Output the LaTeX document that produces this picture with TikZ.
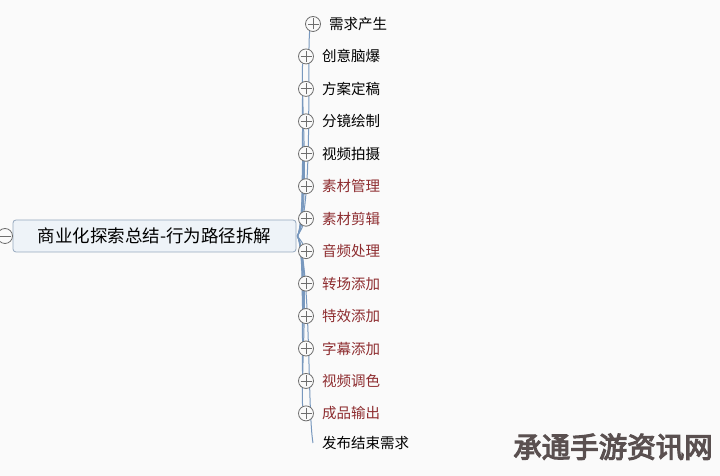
\documentclass[tikz,border=0pt]{standalone}
\usepackage{fontspec}
\newfontfamily\cjk{Noto Sans CJK SC}
\newfontfamily\cjkheavy[FakeBold=4]{Noto Sans CJK SC}
\usetikzlibrary{positioning,backgrounds}
\definecolor{bgcol}{RGB}{250,250,250}
\definecolor{rootfill}{RGB}{238,243,248}
\definecolor{rootdraw}{RGB}{150,168,190}
\definecolor{branchcol}{RGB}{120,152,190}
\definecolor{knobcol}{RGB}{110,110,110}
\definecolor{redtext}{RGB}{142,45,48}
\definecolor{marktext}{RGB}{90,80,80}

\tikzset{
  rootbox/.style={draw=rootdraw, fill=rootfill, rounded corners=3pt, line width=0.8pt,
    minimum width=283pt, minimum height=32pt, font=\cjk\fontsize{17.5}{20}\selectfont},
  knob/.style={circle, draw=knobcol, fill=bgcol, line width=0.8pt, minimum size=15pt, inner sep=0pt},
  plusknob/.style={knob, path picture={
      \draw[knobcol, line width=0.8pt] ([xshift=-5.5pt]path picture bounding box.center) -- ([xshift=5.5pt]path picture bounding box.center);
      \draw[knobcol, line width=0.8pt] ([yshift=-5.5pt]path picture bounding box.center) -- ([yshift=5.5pt]path picture bounding box.center);}},
  minusknob/.style={knob, path picture={
      \draw[knobcol, line width=0.8pt] ([xshift=-5.5pt]path picture bounding box.center) -- ([xshift=5.5pt]path picture bounding box.center);}},
  leaf/.style={inner sep=0pt, anchor=west, font=\cjk\fontsize{14.5}{17}\selectfont},
  branch/.style={draw=branchcol, line width=1pt}
}

\begin{document}
\begin{tikzpicture}[x=1pt, y=1pt]
  \useasboundingbox (0,0) rectangle (720,476);

  % Root
  \node[rootbox] (root) at (154.5,240) {商业化探索总结-行为路径拆解};
  \node[minusknob] (rootknob) at (5,240) {};

  % Children
  \foreach \t/\col [count=\i from 0] in {需求产生/black, 创意脑爆/black, 方案定稿/black, 分镜绘制/black,
      视频拍摄/black, 素材管理/redtext, 素材剪辑/redtext, 音频处理/redtext, 转场添加/redtext,
      特效添加/redtext, 字幕添加/redtext, 视频调色/redtext, 成品输出/redtext} {
    \pgfmathsetmacro\cx{\i==0 ? 313 : 306}
    \pgfmathsetmacro\cy{452-32.45*\i}
    \node[plusknob] (c\i) at (\cx,\cy) {};
    \node[leaf, text=\col, right=8pt of c\i] (t\i) {\t};
  }
  \coordinate (c13) at (313,33);
  \node[leaf, right=9pt of c13] (t13) {发布结束需求};

  % Branches, behind the knobs
  \begin{pgfonlayer}{background}
    \fill[bgcol] (0,0) rectangle (720,476);
    \foreach \i in {0,...,6}
      \draw[branch] ([xshift=1pt]root.east) to[out=60, in=-95, looseness=0.4] (c\i.245);
    \foreach \i in {7,...,12}
      \draw[branch] ([xshift=1pt]root.east) to[out=-60, in=95, looseness=0.4] (c\i.115);
    \draw[branch] ([xshift=1pt]root.east) to[out=-65, in=100, looseness=0.4] (c13);
  \end{pgfonlayer}

  % Watermark
  \node[font=\cjkheavy\fontsize{28.5}{32}\selectfont, text=marktext] (mark) at (613,29) {承通手游资讯网};
\end{tikzpicture}
\end{document}
